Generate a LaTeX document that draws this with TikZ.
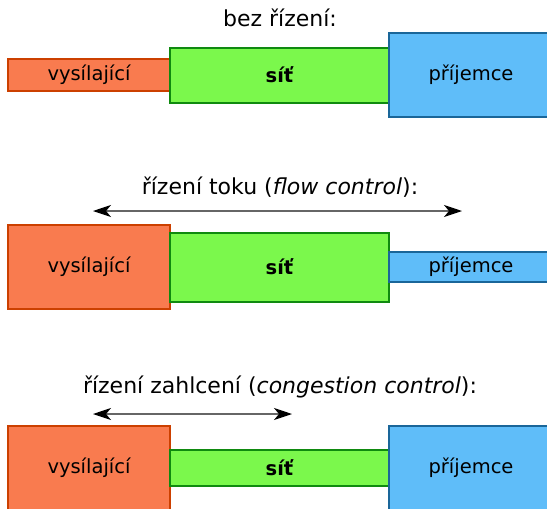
\documentclass[tikz,border=0pt]{standalone}
\usepackage{fontspec}
\setmainfont{DejaVu Sans}
\usetikzlibrary{arrows.meta,positioning}

\definecolor{sendfill}{HTML}{F97B4F}
\definecolor{senddraw}{HTML}{CC4000}
\definecolor{netfill}{HTML}{7BF84C}
\definecolor{netdraw}{HTML}{0F8A0F}
\definecolor{recvfill}{HTML}{5FBDF9}
\definecolor{recvdraw}{HTML}{1A6699}

\begin{document}
\begin{tikzpicture}[
    x=1pt, y=-1pt,
    node distance=0pt,
    box/.style={draw, line width=2pt, inner sep=0pt, outer sep=0pt, font=\fontsize{19.5}{23}\selectfont},
    sender/.style={box, fill=sendfill, draw=senddraw, minimum width=162pt},
    net/.style={box, fill=netfill, draw=netdraw, minimum width=219pt, font=\fontsize{19.5}{23}\selectfont\bfseries},
    receiver/.style={box, fill=recvfill, draw=recvdraw, minimum width=164pt},
    title/.style={font=\fontsize{22}{26}\selectfont, inner sep=0pt},
    span/.style={{Stealth[length=18pt,width=12pt,inset=5pt,black]}-{Stealth[length=18pt,width=12pt,inset=5pt,black]},
                 line width=1.2pt, draw=black!60}
]
\useasboundingbox (0,0) rectangle (547,509);

% bez rizeni
\node[title] (t1) at (280,18) {bez řízení:};
\node[sender, minimum height=32pt] (send1) at (89,75) {vysílající};
\node[net, minimum height=55pt, right=of send1] (net1) {síť};
\node[receiver, minimum height=84pt, right=of net1] (recv1) {příjemce};

% flow control
\node[title] (t2) at (280,187) {řízení toku (\textit{flow control}):};
\coordinate (a2) at (93,211);
\coordinate (b2) at (462,211);
\draw[span] (a2) -- (b2);
\node[sender, minimum height=84pt] (send2) at (89,267) {vysílající};
\node[net, minimum height=69pt, right=of send2] (net2) {síť};
\node[receiver, minimum height=30pt, right=of net2] (recv2) {příjemce};

% congestion control
\node[title] (t3) at (280,387) {řízení zahlcení (\textit{congestion control}):};
\coordinate (a3) at (93,414);
\coordinate (b3) at (292,414);
\draw[span] (a3) -- (b3);
\node[sender, minimum height=84pt] (send3) at (89,468) {vysílající};
\node[net, minimum height=36pt, right=of send3] (net3) {síť};
\node[receiver, minimum height=84pt, right=of net3] (recv3) {příjemce};
\end{tikzpicture}
\end{document}
